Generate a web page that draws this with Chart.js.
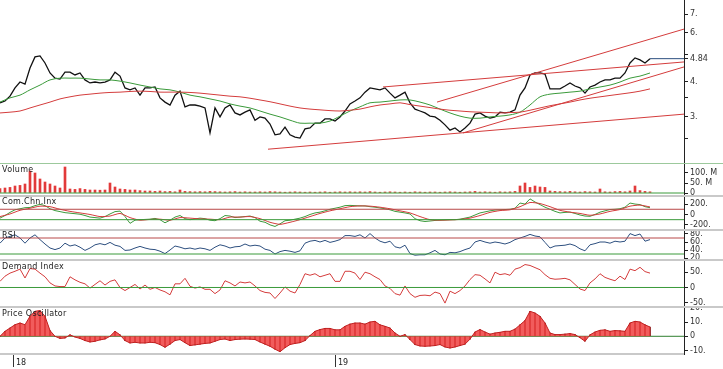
<!DOCTYPE html>
<html>
<head>
<meta charset="utf-8">
<script src="https://cdn.jsdelivr.net/npm/chart.js@4.4.1/dist/chart.umd.min.js"></script>
<style>
  body { margin: 0; background: #fff; width: 723px; height: 369px; overflow: hidden; position: relative; font-family: "DejaVu Sans", sans-serif; }
  canvas { position: absolute; left: 0; }
  .sep { position: absolute; left: 0; width: 723px; height: 2px; background: #c9c9c9; }
  .lbl { position: absolute; left: 2px; font-size: 8px; line-height: 10px; color: #222; letter-spacing: 0.3px; }
</style>
</head>
<body>
<canvas id="cMain" width="723" height="163" style="top:0"></canvas>
<div class="sep" style="top:163px;height:1px;background:#9cc99c"></div>
<canvas id="cVol" width="723" height="31" style="top:164px"></canvas>
<div class="sep" style="top:195px"></div>
<canvas id="cCci" width="723" height="32" style="top:197px"></canvas>
<div class="sep" style="top:229px"></div>
<canvas id="cRsi" width="723" height="28" style="top:231px"></canvas>
<div class="sep" style="top:259px"></div>
<canvas id="cDem" width="723" height="45" style="top:261px"></canvas>
<div class="sep" style="top:306px"></div>
<canvas id="cOsc" width="723" height="61" style="top:308px"></canvas>

<div class="lbl" style="top:165px">Volume</div>
<div class="lbl" style="top:197px">Com.Chn.Inx</div>
<div class="lbl" style="top:231px">RSI</div>
<div class="lbl" style="top:262px">Demand Index</div>
<div class="lbl" style="top:309px">Price Oscillator</div>

<script>
// one bar = one sample, plot holds 136.8 bars
const SPAN = 136.8;

// closing prices, one per bar
const closes = [3.36,3.41,3.55,3.80,3.99,3.92,4.48,4.91,4.95,4.67,4.30,4.12,4.09,4.33,4.33,4.23,4.30,4.06,3.96,3.99,
  3.96,3.99,4.06,4.33,4.19,3.80,3.74,3.80,3.58,3.80,3.80,3.83,3.50,3.38,3.30,3.58,3.70,3.25,3.30,3.30,
  3.27,3.22,2.62,3.22,2.99,3.22,3.30,3.09,3.04,3.11,3.17,2.91,2.99,2.96,2.82,2.58,2.60,2.75,2.58,2.53,
  2.51,2.71,2.73,2.84,2.84,2.94,2.94,2.89,2.99,3.14,3.33,3.41,3.50,3.67,3.80,3.77,3.74,3.80,3.64,3.50,
  3.58,3.67,3.36,3.19,3.14,3.09,3.01,2.99,2.91,2.80,2.68,2.73,2.64,2.73,2.84,3.06,3.09,3.01,2.96,2.99,
  3.11,3.09,3.11,3.17,3.58,3.80,4.23,4.30,4.30,4.26,3.77,3.77,3.77,3.86,3.96,3.86,3.80,3.64,3.83,3.89,
  3.99,4.06,4.06,4.12,4.12,4.30,4.67,4.87,4.79,4.67,4.84];
const lastPrice = 4.84;

// moving averages, one value every 2 bars
const maShort = [3.38,3.50,3.58,3.74,3.89,4.06,4.12,4.12,4.12,4.09,4.06,4.06,4.02,3.96,3.89,3.83,3.77,3.74,3.67,3.58,
  3.53,3.47,3.41,3.33,3.27,3.22,3.14,3.06,2.99,2.91,2.84,2.84,2.84,2.89,3.01,3.14,3.25,3.36,3.38,3.41,
  3.44,3.44,3.38,3.30,3.19,3.09,3.01,2.96,2.96,2.99,3.01,3.04,3.11,3.30,3.53,3.61,3.64,3.67,3.70,3.77,
  3.83,3.89,3.99,4.12,4.19,4.30];
const maLong = [3.09,3.11,3.14,3.22,3.30,3.38,3.47,3.53,3.58,3.61,3.64,3.66,3.67,3.69,3.70,3.69,3.67,3.67,3.67,3.66,
  3.64,3.61,3.58,3.55,3.53,3.49,3.44,3.39,3.33,3.27,3.22,3.19,3.17,3.15,3.14,3.16,3.19,3.25,3.30,3.33,
  3.36,3.31,3.27,3.23,3.19,3.16,3.14,3.12,3.11,3.10,3.09,3.10,3.11,3.16,3.22,3.28,3.33,3.38,3.44,3.49,
  3.53,3.57,3.61,3.65,3.70,3.77];

// trend lines: [startBar, startPrice, endBar, endPrice]
const trendLines = [
  [53.6, 2.29, 136.8, 3.06],
  [76.6, 3.83, 136.8, 4.71],
  [87.4, 3.38, 136.8, 6.18],
  [92.6, 2.62, 136.8, 4.52]
];

// volume in millions, one per bar
const volume = [22,25,28,35,38,45,110,100,70,55,45,35,25,130,20,18,22,18,15,15,
  14,15,50,30,20,18,15,15,12,10,10,8,10,7,8,6,15,8,7,6,
  7,6,8,7,6,5,6,7,5,6,5,5,6,5,7,6,5,4,5,6,
  5,4,5,4,5,6,4,5,6,5,6,5,6,5,7,5,4,5,6,5,
  4,5,4,6,5,4,5,5,4,5,6,5,4,5,6,8,5,6,5,4,
  6,5,6,8,35,50,28,35,30,28,10,8,7,6,8,6,5,7,6,5,
  20,6,5,7,8,6,10,35,12,8,6];

// commodity channel index and its signal (signal every 2 bars)
const cci = [-70,-20,40,90,110,130,135,170,195,170,110,75,55,35,25,15,5,-20,-50,-60,
  -70,-40,10,55,65,-40,-170,-110,-100,-95,-90,-75,-100,-160,-110,-50,-20,-80,-100,-85,
  -70,-80,-110,-120,-80,-20,-30,-60,-50,-40,-30,-60,-130,-150,-200,-230,-180,-120,-110,-90,
  -70,-40,0,30,45,70,100,120,140,170,175,170,165,165,150,140,125,110,90,60,
  45,30,10,-80,-120,-135,-125,-115,-110,-105,-100,-100,-90,-70,-50,-10,30,50,70,85,
  90,95,100,120,220,200,300,240,190,140,100,60,30,40,45,20,-10,-30,-35,0,
  45,70,95,100,110,140,220,200,190,150,130];
const cciSignal = [-40,10,80,120,160,150,100,60,30,0,-40,-30,20,-60,-110,-95,-90,-110,-60,-70,
  -85,-90,-100,-50,-50,-40,-80,-150,-190,-150,-100,-40,20,70,110,150,165,160,140,110,
  70,30,-40,-100,-110,-105,-95,-70,-20,40,75,90,150,230,210,150,80,45,20,-15,
  10,60,95,160,180,145];

const rsi = [57,70,74,78,70,57,70,78,66,55,45,41,45,57,50,53,47,39,45,53,
  56,53,59,52,49,39,40,45,49,45,42,41,37,31,40,50,47,43,45,42,
  45,43,39,47,53,50,45,48,49,55,50,52,50,42,39,30,36,39,37,34,
  38,57,62,64,60,64,59,62,66,76,76,74,78,70,81,70,62,58,62,48,
  45,52,31,27,28,28,33,39,30,28,34,33,36,41,45,60,64,60,57,60,
  58,55,59,66,70,74,79,75,73,59,45,50,51,52,55,51,43,38,53,56,
  60,60,57,62,60,62,81,76,80,62,66];

const demand = [20,37,47,53,60,31,62,60,47,35,15,5,3,3,35,25,17,12,-2,10,
  22,8,20,25,0,-10,0,10,-5,8,-6,0,-8,-14,-24,12,12,30,4,-2,
  2,-6,-6,-20,-8,22,15,5,18,15,18,5,-10,-16,-18,-36,-18,2,-12,-18,
  10,45,40,45,35,40,45,20,20,53,53,47,26,50,45,35,26,5,-3,-20,
  -25,5,-20,-32,-26,-25,-27,-15,-20,-51,-12,-20,-10,5,26,42,40,28,15,50,
  42,45,40,60,65,75,72,65,58,42,30,27,28,30,25,10,-5,-10,15,28,
  45,33,27,22,37,26,60,55,66,52,47];

const priceOsc = [0,3.5,5.8,8.1,9.3,8.1,14,17.5,18,14,4,0,-1.5,-1.2,1,-0.5,-1.5,-3,-4,-3.5,
  -2.5,-1.9,0,3.5,1,-3,-4.7,-4.2,-4.7,-4.7,-4.2,-4.5,-5.8,-7.7,-5.5,-3,-2.3,-4.5,-6.5,-6,
  -5.5,-5,-4.7,-3.5,-2.3,-1.9,-3,-2.3,-2,-1.9,-2,-2.3,-4,-5.5,-7,-9,-10.8,-8,-5.8,-5,
  -4.5,-3,0.5,3.5,4.7,5.5,5.5,4.5,4.5,7,8.5,9.3,9.3,8.5,10,10.5,8,7,5.8,2.3,
  0,1.2,-2.3,-5.8,-6.8,-7,-6.8,-6.5,-5.8,-7.5,-8.2,-7.5,-6.5,-5.5,-2,3,4.7,3,1.5,2.3,
  2.8,3.5,3.5,5,8,11,17.5,16.3,14,9.3,2.3,1.2,1.2,1.5,1.9,1.2,-1,-3.5,1,3,
  4.2,4.5,3.5,4,3.8,3.5,9.3,10.5,10,8,6.5];

// year marks on the time axis
const yearBars = [2.6, 67];
const yearLabels = ['18', '19'];

const RED = '#d43c3c', GREEN = '#3a9a3a', BLUE = '#2d4f7f';
const FONT = { family: 'DejaVu Sans', size: 8 };

function pts(arr, step) { return arr.map((v, i) => ({ x: i * step, y: v })); }
function hline(v, color) {
  return { type: 'line', data: [{ x: 0, y: v }, { x: SPAN, y: v }], borderColor: color, borderWidth: 1, pointRadius: 0 };
}
function yAxis(min, max, ticks, labels, type) {
  return {
    type: type || 'linear', position: 'right', min: min, max: max,
    afterBuildTicks: s => { s.ticks = ticks.map(v => ({ value: v })); },
    afterFit: s => { s.width = 39; s.paddingTop = 0; s.paddingBottom = 0; },
    grid: { drawOnChartArea: false, tickLength: 4, color: '#222' },
    border: { color: '#222' },
    ticks: { autoSkip: false, padding: 2, font: FONT, color: '#333',
      callback: (v, i) => labels[i] }
  };
}
const hiddenX = { type: 'linear', min: 0, max: SPAN, offset: false, grid: { offset: false }, display: false };
function opts(y, x) {
  return {
    responsive: false, animation: false, events: [],
    layout: { padding: 0 },
    plugins: { legend: { display: false }, tooltip: { enabled: false } },
    scales: { x: x || hiddenX, y: y }
  };
}

// price panel
const mainSets = trendLines.map(t => ({
  type: 'line', data: [{ x: t[0], y: t[1] }, { x: t[2], y: t[3] }],
  borderColor: RED, borderWidth: 1, pointRadius: 0
}));
mainSets.push({ type: 'line', data: pts(maLong, 2), borderColor: RED, borderWidth: 1, pointRadius: 0, tension: 0.3 });
mainSets.push({ type: 'line', data: pts(maShort, 2), borderColor: GREEN, borderWidth: 1, pointRadius: 0, tension: 0.3 });
mainSets.push({ type: 'line', data: pts(closes, 1), borderColor: '#111', borderWidth: 1.3, pointRadius: 0 });
mainSets.push({ type: 'line', data: [{ x: closes.length - 1, y: lastPrice }, { x: SPAN, y: lastPrice }],
  borderColor: BLUE, borderWidth: 1, pointRadius: 0 });
new Chart(document.getElementById('cMain'), {
  type: 'line', data: { datasets: mainSets },
  options: opts(yAxis(2.043, 7.86, [2.5, 3, 3.5, 4, lastPrice, 5, 6, 7],
    ['', '3.', '', '4.', '4.84', '', '6.', '7.'], 'logarithmic'))
});

// volume
new Chart(document.getElementById('cVol'), {
  type: 'line',
  data: { datasets: [
    hline(0, GREEN),
    { type: 'bar', data: pts(volume, 1), backgroundColor: '#e23a3a', barThickness: 2 }
  ] },
  options: opts(yAxis(-10, 145, [0, 50, 100], ['0', '50. M', '100. M']))
});

// commodity channel index
new Chart(document.getElementById('cCci'), {
  type: 'line',
  data: { datasets: [
    hline(100, '#b84848'), hline(-100, GREEN),
    { data: pts(cciSignal, 2), borderColor: RED, borderWidth: 1, pointRadius: 0, tension: 0.2 },
    { data: pts(cci, 1), borderColor: '#3d9a3d', borderWidth: 1, pointRadius: 0 }
  ] },
  options: opts(yAxis(-279, 336, [-200, 0, 200], ['-200.', '0', '200.']))
});

// RSI
new Chart(document.getElementById('cRsi'), {
  type: 'line',
  data: { datasets: [
    hline(70, '#b84848'), hline(30, GREEN),
    { data: pts(rsi, 1), borderColor: BLUE, borderWidth: 1, pointRadius: 0 }
  ] },
  options: opts(yAxis(17.5, 87.5, [20, 40, 60, 80], ['20.', '40.', '60.', '80.']))
});

// demand index
new Chart(document.getElementById('cDem'), {
  type: 'line',
  data: { datasets: [
    hline(0, GREEN),
    { data: pts(demand, 1), borderColor: RED, borderWidth: 1, pointRadius: 0 }
  ] },
  options: opts(yAxis(-60.5, 86.6, [-50, 0, 50], ['-50.', '0', '50.']))
});

// price oscillator with the time axis
new Chart(document.getElementById('cOsc'), {
  type: 'line',
  data: { datasets: [
    { type: 'line', data: pts(priceOsc, 1), borderColor: '#c02020', borderWidth: 1, pointRadius: 0,
      fill: 'origin', backgroundColor: 'rgba(238,64,64,0.85)' },
    { type: 'bar', data: pts(priceOsc, 1), backgroundColor: '#8a0f0f', barThickness: 1 },
    hline(0, '#2f7f2f')
  ] },
  options: opts(
    yAxis(-12.4, 19.8, [-10, 0, 10, 20], ['-10.', '0', '10.', '20.']),
    { type: 'linear', position: 'bottom', min: 0, max: SPAN, offset: false,
      afterBuildTicks: s => { s.ticks = yearBars.map(v => ({ value: v })); },
      afterFit: s => { s.height = 15; s.paddingLeft = 0; s.paddingRight = 0; },
      grid: { drawOnChartArea: false, offset: false, tickLength: 13, color: '#333' },
      border: { color: '#c9c9c9', width: 2 },
      ticks: { autoSkip: false, maxRotation: 0, align: 'start', padding: -9, labelOffset: 3,
        font: FONT, color: '#222', callback: (v, i) => yearLabels[i] } })
});
</script>
</body>
</html>
